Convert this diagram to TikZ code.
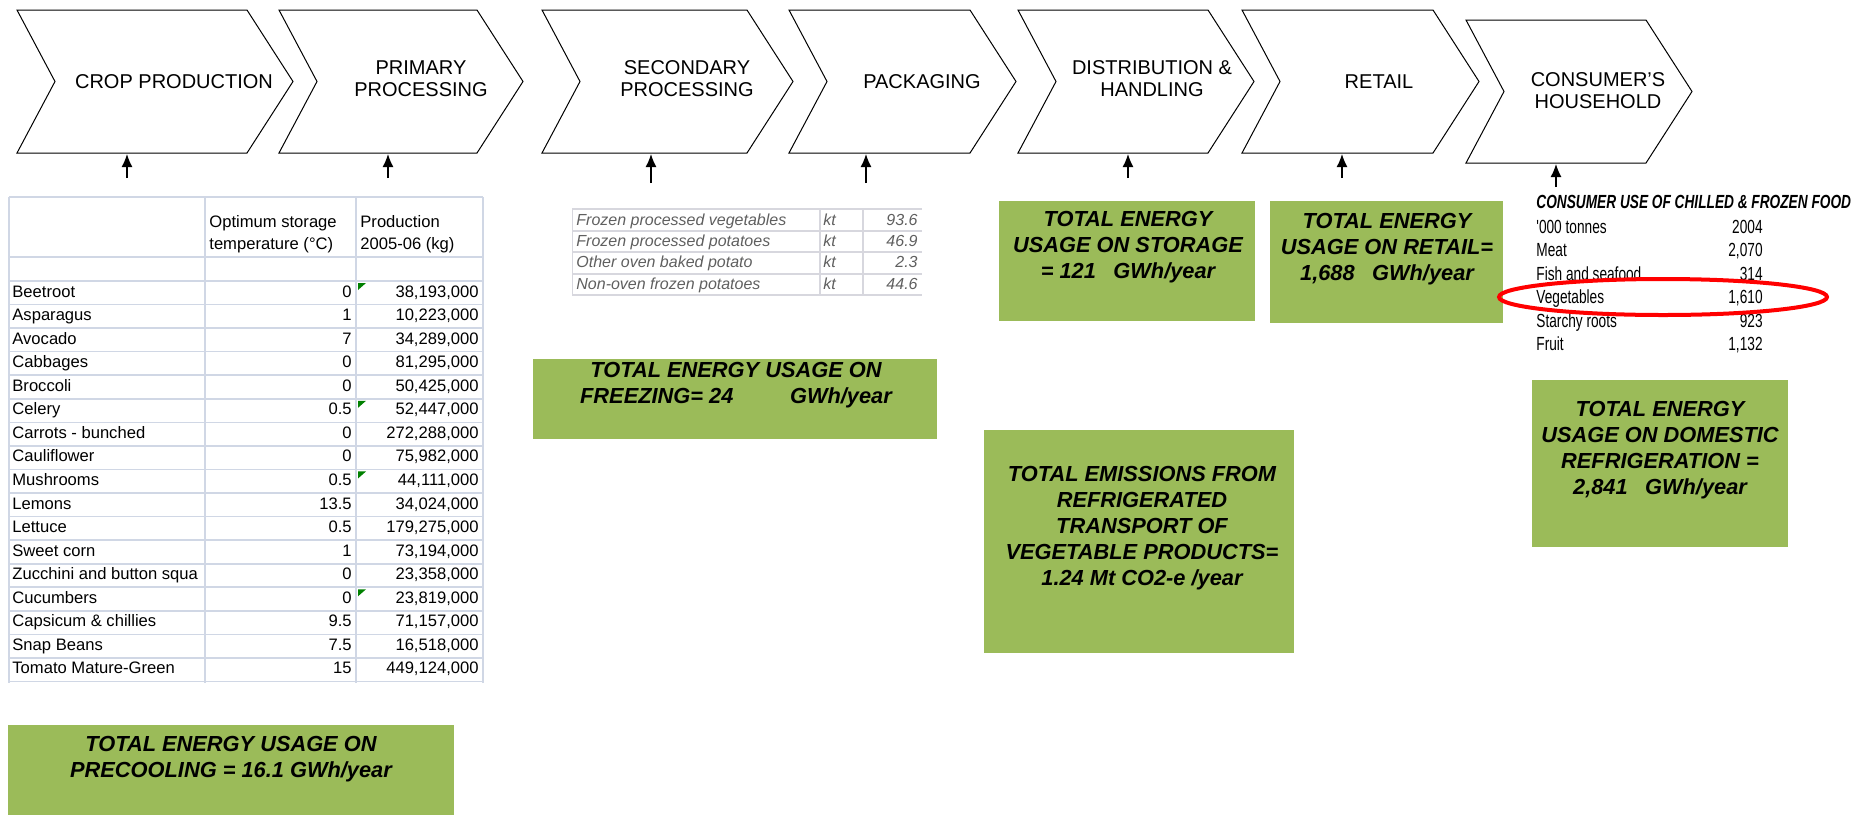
\documentclass[tikz,border=0pt]{standalone}
\usepackage{fontspec}
\setmainfont{Liberation Sans}
\newfontfamily\narrowsans[FakeStretch=0.72]{Liberation Sans}
\usetikzlibrary{arrows.meta}
\definecolor{boxgreen}{RGB}{155,187,89}
\definecolor{gridblue}{RGB}{208,215,229}
\definecolor{markgreen}{RGB}{0,128,0}
\definecolor{scangrey}{RGB}{95,95,95}
\definecolor{scangrid}{RGB}{215,215,222}

\begin{document}
\begin{tikzpicture}[x=0.5pt, y=-0.5pt,
    chev/.style={draw, line width=0.5pt},
    stagetext/.style={align=center, inner sep=0pt, font=\fontsize{10}{11}\selectfont},
    feed/.style={-{Latex[length=6.5pt, width=5.5pt]}, line width=0.7pt},
    cell/.style={inner sep=0pt, font=\fontsize{8.3}{10}\selectfont},
    gridline/.style={color=gridblue, line width=0.8pt},
    total/.style={align=center, inner sep=0pt, font=\fontsize{10.9}{13}\selectfont\bfseries\itshape},
    scan/.style={inner sep=0pt, color=scangrey, font=\fontsize{8}{10}\selectfont\itshape},
    consumer/.style={inner sep=0pt, font=\fontsize{9.5}{11}\narrowsans}]
  \useasboundingbox (0, 0) rectangle (1863, 815);

  \foreach \i/\l/\r/\t/\b/\ax/\ay in {1/17/247/10/153/127/178, 2/279/477/10/153/388/178,
      3/542/747/10/153/651/183, 4/789/970/10/153/866/183, 5/1018/1208/10/153/1128/178,
      6/1242/1433/10/153/1342/178, 7/1466/1646/20/163/1556/187}
  {
    \draw [chev] (\l, \t) -- (\r, \t) -- ({\r+46}, {(\t+\b)/2}) -- (\r, \b)
      -- (\l, \b) -- ({\l+38}, {(\t+\b)/2}) -- cycle;
    \coordinate (base\i) at (\ax, {\b+1});
    \coordinate (foot\i) at (\ax, \ay);
    \draw [feed] (foot\i) to (base\i);
  }
  \node [stagetext] (crop) at (174, 82) {CROP PRODUCTION};
  \node [stagetext] (primary) at (421, 79) {PRIMARY\\PROCESSING};
  \node [stagetext] (secondary) at (687, 79) {SECONDARY\\PROCESSING};
  \node [stagetext] (packaging) at (922, 82) {PACKAGING};
  \node [stagetext] (distribution) at (1152, 79) {DISTRIBUTION \&\\HANDLING};
  \node [stagetext] (retail) at (1379, 82) {RETAIL};
  \node [stagetext] (household) at (1598, 91) {CONSUMER'S\\HOUSEHOLD};

  % storage temperatures and production
  \foreach \y in {197, 257}
    \draw [gridline] (9, \y) to (483, \y);
  \foreach \k in {0, ..., 17}
    \draw [gridline] (9, {281+23.56*\k}) to (483, {281+23.56*\k});
  \foreach \x in {9, 205, 356, 483}
    \draw [gridline] (\x, 197) to (\x, 683);
  \node [cell, anchor=base west] (temphead) at (209, 227) {Optimum storage};
  \node [cell, anchor=base west] (temphead2) at (209, 249) {temperature (°C)};
  \node [cell, anchor=base west] (prodhead) at (360, 227) {Production};
  \node [cell, anchor=base west] (prodhead2) at (360, 249) {2005-06 (kg)};
  \foreach \veg/\tc/\pr [count=\k] in {Beetroot/0/{38,193,000}, Asparagus/1/{10,223,000},
      Avocado/7/{34,289,000}, Cabbages/0/{81,295,000}, Broccoli/0/{50,425,000},
      Celery/0.5/{52,447,000}, Carrots - bunched/0/{272,288,000}, Cauliflower/0/{75,982,000},
      Mushrooms/0.5/{44,111,000}, Lemons/13.5/{34,024,000}, Lettuce/0.5/{179,275,000},
      Sweet corn/1/{73,194,000}, Zucchini and button squa/0/{23,358,000},
      Cucumbers/0/{23,819,000}, Capsicum \& chillies/9.5/{71,157,000},
      Snap Beans/7.5/{16,518,000}, Tomato Mature-Green/15/{449,124,000}}
  {
    \node [cell, anchor=base west] (veg\k) at (12, {281+23.56*(\k-1)+16}) {\veg};
    \node [cell, anchor=base east] (tc\k) at (352, {281+23.56*(\k-1)+16}) {\tc};
    \node [cell, anchor=base east] (pr\k) at (479, {281+23.56*(\k-1)+16}) {\pr};
  }
  \foreach \k in {1, 6, 9, 14}
    \fill [markgreen] (358, {281+23.56*(\k-1)+2}) -- ++(8, 0) -- ++(-8, 7) -- cycle;

  \fill [boxgreen] (8, 725) rectangle (454, 815);
  \node [total] (precool) at (231, 759) {TOTAL ENERGY USAGE ON\\PRECOOLING = 16.1 GWh/year};

  % frozen products
  \begin{scope}
    \clip (572, 207) rectangle (922, 297);
    \foreach \y in {209, 231, 252, 274, 295}
      \draw [color=scangrid, line width=0.6pt] (572, \y) to (922, \y);
    \foreach \x in {572, 820, 863}
      \draw [color=scangrid, line width=0.6pt] (\x, 209) to (\x, 295);
    \foreach \item/\val [count=\k] in {Frozen processed vegetables/93.6, Frozen processed potatoes/46.9,
        Other oven baked potato/2.3, Non-oven frozen potatoes/44.6}
    {
      \node [scan, anchor=base west] (item\k) at (576, {204+21.3*\k}) {\item};
      \node [scan, anchor=base west] (unit\k) at (823, {204+21.3*\k}) {kt};
      \node [scan, anchor=base east] (val\k) at (918, {204+21.3*\k}) {\val};
    }
  \end{scope}

  \fill [boxgreen] (533, 359) rectangle (937, 439);
  \node [total] (freezing) at (736, 385) {TOTAL ENERGY USAGE ON\\FREEZING= 24\hspace{2.6em}GWh/year};

  \fill [boxgreen] (999, 201) rectangle (1255, 321);
  \node [total] (storage) at (1128, 247) {TOTAL ENERGY\\USAGE ON STORAGE\\= 121\hspace{0.8em}GWh/year};

  \fill [boxgreen] (1270, 201) rectangle (1503, 323);
  \node [total] (retailtotal) at (1387, 249) {TOTAL ENERGY\\USAGE ON RETAIL=\\1,688\hspace{0.8em}GWh/year};

  \fill [boxgreen] (984, 430) rectangle (1294, 653);
  \node [total] (emissions) at (1142, 528) {TOTAL EMISSIONS FROM\\REFRIGERATED\\TRANSPORT OF\\VEGETABLE PRODUCTS=\\1.24 Mt CO2-e /year};

  % consumer use
  \node [consumer, anchor=base west, font=\fontsize{9.5}{11}\narrowsans\bfseries\itshape] (chilled) at (1536, 208)
    {CONSUMER USE OF CHILLED \& FROZEN FOOD};
  \foreach \food/\amount [count=\k] in {'000 tonnes/2004, Meat/{2,070}, Fish and seafood/314,
      Vegetables/{1,610}, Starchy roots/923, Fruit/{1,132}}
  {
    \node [consumer, anchor=base west] (food\k) at (1536, {210+23.4*\k}) {\food};
    \node [consumer, anchor=base east] (amount\k) at (1763, {210+23.4*\k}) {\amount};
  }
  \draw [red, line width=2pt] (1663, 297) ellipse [x radius=82pt, y radius=9pt];

  \fill [boxgreen] (1532, 380) rectangle (1788, 547);
  \node [total] (domestic) at (1660, 450) {TOTAL ENERGY\\USAGE ON DOMESTIC\\REFRIGERATION =\\2,841\hspace{0.8em}GWh/year};
\end{tikzpicture}
\end{document}
